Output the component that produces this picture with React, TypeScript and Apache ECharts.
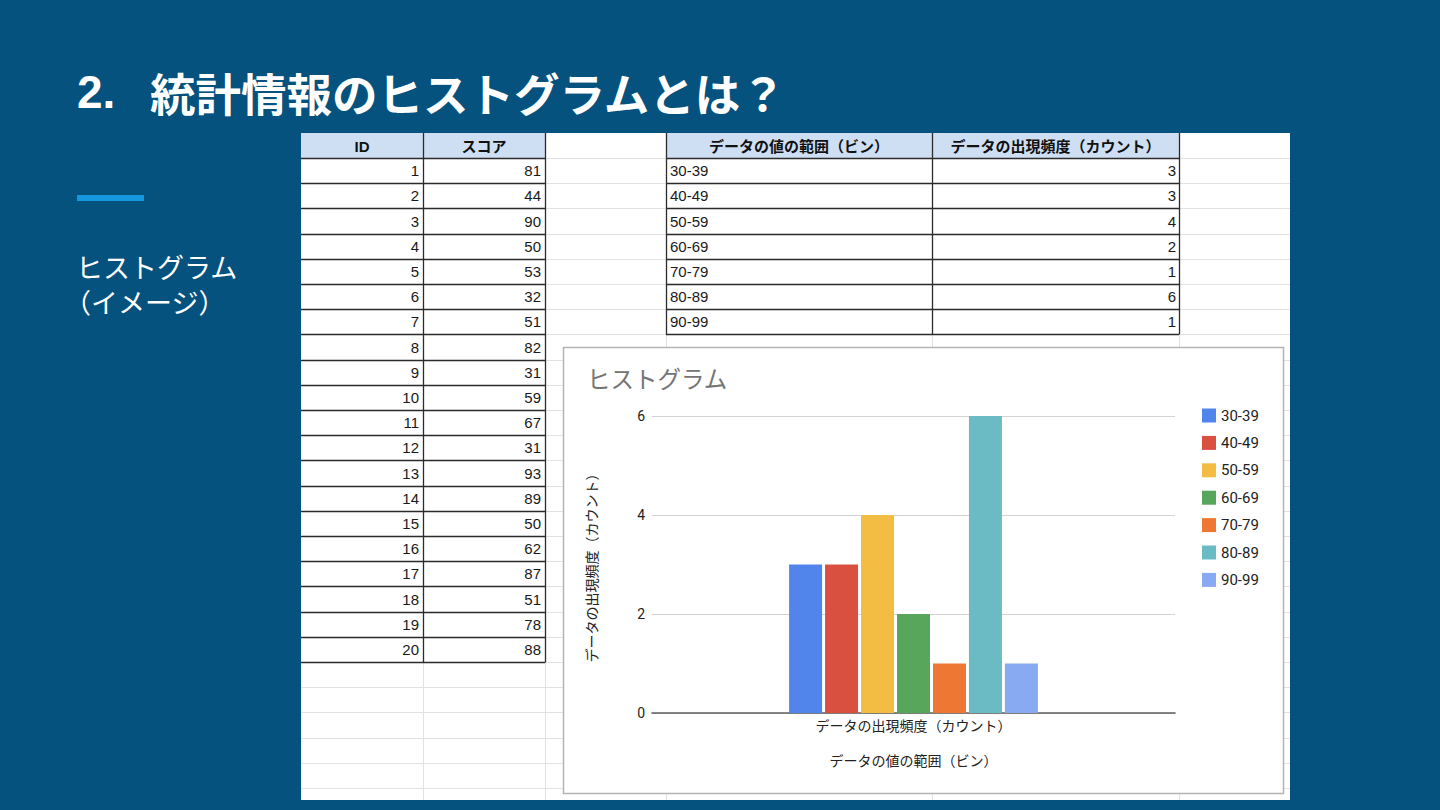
import React, { useEffect, useRef } from "react";
import * as echarts from "echarts";

// ---- data ----
const slideNumber = "2.";
const slideTitle = "統計情報のヒストグラムとは？";
const sideLines = ["ヒストグラム", "（イメージ）"];

const idHeader = "ID";
const scoreHeader = "スコア";
const ids = [1, 2, 3, 4, 5, 6, 7, 8, 9, 10, 11, 12, 13, 14, 15, 16, 17, 18, 19, 20];
const scores = [81, 44, 90, 50, 53, 32, 51, 82, 31, 59, 67, 31, 93, 89, 50, 62, 87, 51, 78, 88];

const binHeader = "データの値の範囲（ビン）";
const countHeader = "データの出現頻度（カウント）";
const binLabels = ["30-39", "40-49", "50-59", "60-69", "70-79", "80-89", "90-99"];
const binCounts = [3, 3, 4, 2, 1, 6, 1];

const chartTitle = "ヒストグラム";
const xCategory = ["データの出現頻度（カウント）"];
const xAxisName = "データの値の範囲（ビン）";
const yAxisName = "データの出現頻度（カウント）";
const seriesColors = ["#5185EC", "#D95040", "#F2BD42", "#58A55C", "#EE7733", "#6ABBC4", "#87AAF2"];

// ---- layout ----
const BG = "#04527D";
const SHEET = { left: 301, top: 133, right: 1290, bottom: 800 };
const HEADER_BOTTOM = 158;
const ROW_H = 25.2;
const COLS = [301, 423, 545, 666, 932, 1179, 1290];
const CJK = "'Noto Sans CJK JP', sans-serif";
const SHEET_FONT = "'Liberation Sans', Arial, 'Noto Sans CJK JP', sans-serif";
const CHART_FONT = "Roboto, 'Noto Sans CJK JP', sans-serif";

function rowTop(k: number) {
  return HEADER_BOTTOM + (k - 1) * ROW_H;
}
function rowMid(k: number) {
  return HEADER_BOTTOM + (k - 0.5) * ROW_H;
}

function buildGraphics() {
  const els: any[] = [];
  // accent bar
  els.push({ type: "rect", z: 0, shape: { x: 77, y: 195, width: 67, height: 6 }, style: { fill: "#1597E0" } });
  // slide title
  els.push({
    type: "text", z: 0, x: 77, y: 92,
    style: { text: slideNumber, fill: "#fff", font: `bold 46px 'Liberation Sans', Arial, sans-serif`, verticalAlign: "middle" },
  });
  els.push({
    type: "text", z: 0, x: 150, y: 92,
    style: { text: slideTitle, fill: "#fff", font: `bold 45.5px ${CJK}`, verticalAlign: "middle" },
  });
  sideLines.forEach((t, i) => {
    els.push({
      type: "text", z: 0, x: i === 0 ? 76 : 64, y: 266 + i * 35,
      style: { text: t, fill: "#fff", font: `27px ${CJK}`, verticalAlign: "middle" },
    });
  });

  // sheet background
  els.push({
    type: "rect", z: 0,
    shape: { x: SHEET.left, y: SHEET.top, width: SHEET.right - SHEET.left, height: SHEET.bottom - SHEET.top },
    style: { fill: "#ffffff" },
  });
  // header fills
  els.push({ type: "rect", z: 1, shape: { x: COLS[0], y: SHEET.top, width: COLS[2] - COLS[0], height: HEADER_BOTTOM - SHEET.top }, style: { fill: "#CFDFF3" } });
  els.push({ type: "rect", z: 1, shape: { x: COLS[3], y: SHEET.top, width: COLS[5] - COLS[3], height: HEADER_BOTTOM - SHEET.top }, style: { fill: "#CFDFF3" } });

  // light grid lines
  for (let k = 0; HEADER_BOTTOM + k * ROW_H < SHEET.bottom; k++) {
    const y = Math.round(HEADER_BOTTOM + k * ROW_H) + 0.5;
    els.push({ type: "line", z: 2, shape: { x1: SHEET.left, y1: y, x2: SHEET.right, y2: y }, style: { stroke: "#E2E2E2", lineWidth: 1 } });
  }
  COLS.slice(1, 6).forEach((x) => {
    els.push({ type: "line", z: 2, shape: { x1: x + 0.5, y1: SHEET.top, x2: x + 0.5, y2: SHEET.bottom }, style: { stroke: "#E2E2E2", lineWidth: 1 } });
  });

  const dark = { stroke: "#2b2b2b", lineWidth: 1.3 };
  // ID table borders
  for (let k = 0; k <= ids.length; k++) {
    const y = Math.round(HEADER_BOTTOM + k * ROW_H) + 0.5;
    els.push({ type: "line", z: 3, shape: { x1: COLS[0], y1: y, x2: COLS[2], y2: y }, style: dark });
  }
  [COLS[1], COLS[2]].forEach((x) => {
    els.push({ type: "line", z: 3, shape: { x1: x + 0.5, y1: SHEET.top, x2: x + 0.5, y2: Math.round(rowTop(ids.length + 1)) + 0.5 }, style: dark });
  });
  // bin table borders
  for (let k = 0; k <= binLabels.length; k++) {
    const y = Math.round(HEADER_BOTTOM + k * ROW_H) + 0.5;
    els.push({ type: "line", z: 3, shape: { x1: COLS[3], y1: y, x2: COLS[5], y2: y }, style: dark });
  }
  [COLS[3], COLS[4], COLS[5]].forEach((x) => {
    els.push({ type: "line", z: 3, shape: { x1: x + 0.5, y1: SHEET.top, x2: x + 0.5, y2: Math.round(rowTop(binLabels.length + 1)) + 0.5 }, style: dark });
  });

  // header texts
  const hdr = (text: string, c0: number, c1: number) => ({
    type: "text", z: 3, x: (COLS[c0] + COLS[c1]) / 2, y: (SHEET.top + HEADER_BOTTOM) / 2 + 0.5,
    style: { text, fill: "#111", font: `bold 15px ${SHEET_FONT}`, align: "center", verticalAlign: "middle" },
  });
  els.push(hdr(idHeader, 0, 1), hdr(scoreHeader, 1, 2), hdr(binHeader, 3, 4), hdr(countHeader, 4, 5));

  const cell = (text: string, x: number, y: number, align: string) => ({
    type: "text", z: 3, x, y,
    style: { text, fill: "#1a1a1a", font: `15px ${SHEET_FONT}`, align, verticalAlign: "middle" },
  });
  ids.forEach((id, i) => {
    els.push(cell(String(id), COLS[1] - 4, rowMid(i + 1), "right"));
    els.push(cell(String(scores[i]), COLS[2] - 4, rowMid(i + 1), "right"));
  });
  binLabels.forEach((b, i) => {
    els.push(cell(b, COLS[3] + 4, rowMid(i + 1), "left"));
    els.push(cell(String(binCounts[i]), COLS[5] - 3, rowMid(i + 1), "right"));
  });

  // chart box
  els.push({
    type: "rect", z: 4,
    shape: { x: 563.5, y: 347.5, width: 720, height: 446 },
    style: { fill: "#ffffff", stroke: "#B4B4B4", lineWidth: 1.5 },
  });
  return els;
}

export default function App() {
  const ref = useRef<HTMLDivElement>(null);
  useEffect(() => {
    if (!ref.current) return;
    const chart = echarts.init(ref.current, undefined, { renderer: "svg" });
    chart.setOption({
      animation: false,
      backgroundColor: BG,
      graphic: { elements: buildGraphics() },
      title: {
        text: chartTitle,
        left: 582,
        top: 363,
        z: 8,
        textStyle: { fontSize: 23.5, color: "#757575", fontWeight: "normal", fontFamily: CHART_FONT },
      },
      legend: {
        data: binLabels,
        orient: "vertical",
        left: 1197,
        top: 403,
        z: 8,
        itemWidth: 14,
        itemHeight: 14,
        itemGap: 12.4,
        icon: "rect",
        textStyle: { fontSize: 15, color: "#222", fontFamily: CHART_FONT },
      },
      grid: { left: 652, top: 416, width: 523, height: 297, containLabel: false },
      xAxis: {
        type: "category",
        data: xCategory,
        z: 6,
        name: xAxisName,
        nameLocation: "middle",
        nameGap: 41,
        nameTextStyle: { fontSize: 14, color: "#222", fontFamily: CHART_FONT },
        axisTick: { show: false },
        axisLine: { show: true, lineStyle: { color: "#5f5f5f", width: 1.6 } },
        axisLabel: { fontSize: 14, color: "#222", margin: 6, fontFamily: CHART_FONT },
      },
      yAxis: {
        type: "value",
        min: 0,
        max: 6,
        interval: 2,
        z: 5,
        name: yAxisName,
        nameLocation: "middle",
        nameRotate: 90,
        nameGap: 53,
        nameTextStyle: { fontSize: 14, color: "#222", fontFamily: CHART_FONT },
        axisLine: { show: false },
        axisTick: { show: false },
        axisLabel: { fontSize: 14, color: "#222", margin: 7, fontFamily: CHART_FONT },
        splitLine: { lineStyle: { color: "#D3D3D3", width: 1 } },
      },
      series: binLabels.map((b, i) => ({
        name: b,
        type: "bar",
        z: 7,
        data: [binCounts[i]],
        barWidth: 33,
        barGap: "9%",
        itemStyle: { color: seriesColors[i] },
      })),
    });
    return () => chart.dispose();
  }, []);
  return <div ref={ref} style={{ position: "fixed", left: 0, top: 0, width: 1440, height: 810 }} />;
}
